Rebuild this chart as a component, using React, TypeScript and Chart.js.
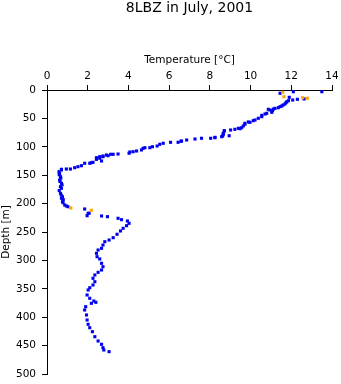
import React, { useEffect, useRef } from "react";
import { Chart, registerables } from "chart.js";

Chart.register(...registerables);

const titleText = "8LBZ in July, 2001";
const xTitle = "Temperature [°C]";
const yTitle = "Depth [m]";

const blueTemperature = [
  13.5, 12.1, 11.45, 11.9, 12.3, 12.63, 12.07, 11.86, 11.78, 11.74, 11.69, 11.6, 11.53, 11.45, 11.36, 11.2,
  11.12, 10.87, 10.95, 11.08, 11.04, 10.79, 10.71, 10.55, 10.55, 10.38, 10.22, 10.13, 9.89, 9.97, 9.72, 9.72,
  9.64, 9.56, 9.4, 9.48, 9.23, 9.02, 8.71, 8.71, 8.66, 8.66, 8.95, 8.63, 8.58, 8.25, 8.25, 8.04, 7.59, 7.27,
  6.86, 6.61, 6.58, 6.44, 6.07, 5.71, 5.54, 5.41, 5.18, 5.05, 4.81, 4.72, 4.64, 4.4, 4.23, 4.07, 4.03, 3.49,
  3.25, 3.13, 3.0, 2.92, 2.75, 2.75, 2.59, 2.43, 2.59, 2.43, 2.43, 2.68, 2.26, 2.18, 2.1, 1.85, 1.69, 1.52,
  1.36, 1.15, 0.95, 0.71, 0.71, 0.59, 0.62, 0.6, 0.66, 0.68, 0.62, 0.64, 0.71, 0.74, 0.66, 0.71, 0.6, 0.66,
  0.7, 0.76, 0.71, 0.8, 0.76, 0.79, 0.87, 0.95, 1.03, 1.85, 2.07, 2.02, 1.97, 2.68, 2.97, 3.49, 3.66, 3.95,
  4.03, 3.91, 3.74, 3.61, 3.44, 3.25, 3.05, 2.84, 2.75, 2.68, 2.51, 2.43, 2.46, 2.59, 2.68, 2.75, 2.68, 2.51,
  2.35, 2.26, 2.35, 2.26, 2.1, 2.02, 1.97, 2.1, 2.3, 2.4, 2.18, 1.9, 1.85, 1.94, 1.97, 2.02, 2.1, 2.23,
  2.35, 2.51, 2.68, 2.75, 2.79, 3.05,
];
const blueDepth = [
  3, 3, 5.8, 12.9, 16.4, 15.8, 17.6, 18.8, 20.6, 22.3, 24.6, 26.4, 28.2, 29.3, 31.2, 32.3,
  33.5, 34, 35.2, 36.4, 39.3, 41, 42.3, 44.6, 47, 49.8, 52.8, 54, 56.3, 56.9, 58.7, 60.4,
  63.4, 66.4, 67.4, 68.1, 69.2, 70.4, 71.6, 72.2, 76.3, 78, 80.5, 81, 82.2, 83.3, 84, 85, 85, 86.3,
  88, 89.8, 90.3, 92.1, 92.1, 93.8, 95.6, 98.6, 99.8, 101.6, 101.6, 102.7, 105.6, 107.4, 108.6, 109.2, 111.4, 112.7,
  113.2, 113.2, 115.7, 114.4, 116.2, 117.4, 117.4, 119.2, 120.2, 121.5, 122, 125, 127.3, 127.9, 129, 129, 133.3, 135,
  136.8, 139.1, 139.1, 139.6, 140.8, 143.8, 146.7, 149, 152.6, 155, 158.5, 161, 164.3, 167, 170.2, 173.1, 177, 181.9,
  185, 187.9, 190.7, 193, 196.7, 198.4, 202.5, 204.2, 205.5, 209.5, 217, 217.1, 221.3, 221.8, 223, 225.9, 228.3, 230.6,
  234.7, 238.9, 243.5, 248.2, 254, 260, 264.1, 267.1, 272.9, 278.7, 281.7, 287.5, 293.5, 297.5, 305.1, 311.1, 316.9, 321,
  325.7, 331.5, 337.5, 343.3, 348.1, 352.1, 360.9, 366.7, 371.5, 373.8, 375.5, 381.5, 387.3, 396.1, 404.9, 412.5, 418.5, 425.5,
  434.3, 441.9, 447.7, 453.7, 457.7, 460.7,
];
const orangeTemperature = [11.58, 11.64, 12.56, 12.79, 1.17, 2.18];
const orangeDepth = [4, 11.8, 13.6, 14.6, 207.7, 211.8];

const temperatureTicks = [0, 2, 4, 6, 8, 10, 12, 14];
const depthTicks = [0, 50, 100, 150, 200, 250, 300, 350, 400, 450, 500];

const FONT = "'DejaVu Sans', 'Liberation Sans', Arial, sans-serif";

export default function App() {
  const ref = useRef<HTMLCanvasElement>(null);

  useEffect(() => {
    document.body.style.margin = "0";
    const blue = blueTemperature.map((t, i) => ({ x: t, y: blueDepth[i] }));
    const orange = orangeTemperature.map((t, i) => ({ x: t, y: orangeDepth[i] }));
    const tickFont = { family: FONT, size: 10.5, weight: "normal" as const, lineHeight: 1.2 };

    const chart = new Chart(ref.current!, {
      type: "scatter",
      data: {
        datasets: [
          {
            label: "flagged",
            data: orange,
            backgroundColor: "#FFA500",
            borderColor: "#FFA500",
            borderWidth: 0,
            pointStyle: "rect",
            pointRadius: 2.2,
          },
          {
            label: "temperature",
            data: blue,
            backgroundColor: "#0000F0",
            borderColor: "#0000F0",
            borderWidth: 0,
            pointStyle: "rect",
            pointRadius: 2.2,
          },
        ],
      },
      options: {
        responsive: false,
        animation: false,
        devicePixelRatio: 1,
        layout: { padding: { left: 0, right: 9, top: 0, bottom: 10 } },
        plugins: {
          legend: { display: false },
          tooltip: { enabled: false },
          title: {
            display: true,
            text: titleText,
            fullSize: false,
            color: "#000",
            font: { family: FONT, size: 14, weight: "normal", lineHeight: 1.2 },
            padding: { top: 0, bottom: 0 },
          },
        },
        scales: {
          x: {
            type: "linear",
            position: "top",
            min: 0,
            max: 14,
            afterBuildTicks: (s: any) => {
              s.ticks = temperatureTicks.map((v) => ({ value: v }));
            },
            afterFit: (s: any) => {
              s.height = 73.2;
              s.paddingLeft = 0;
              s.paddingRight = 0;
            },
            ticks: { color: "#000", font: tickFont, padding: 2 },
            grid: { drawOnChartArea: false, drawTicks: true, tickLength: 5, color: "#000", tickColor: "#000", lineWidth: 1 },
            border: { display: true, color: "#000", width: 1 },
            title: { display: true, text: xTitle, color: "#000", font: tickFont, padding: { top: 37, bottom: 0 } },
          },
          y: {
            type: "linear",
            position: "left",
            reverse: true,
            min: 0,
            max: 500,
            afterBuildTicks: (s: any) => {
              s.ticks = depthTicks.map((v) => ({ value: v }));
            },
            afterFit: (s: any) => {
              s.width = 47;
              s.paddingTop = 0;
              s.paddingBottom = 0;
            },
            ticks: { color: "#000", font: tickFont, padding: 6 },
            grid: { drawOnChartArea: false, drawTicks: true, tickLength: 5, color: "#000", tickColor: "#000", lineWidth: 1 },
            border: { display: true, color: "#000", width: 1 },
            title: { display: true, text: yTitle, color: "#000", font: tickFont, padding: { top: 0, bottom: 0 } },
          },
        },
      },
    });
    return () => chart.destroy();
  }, []);

  return (
    <div style={{ position: "absolute", left: 0, top: 0, width: 341, height: 384, background: "#fff" }}>
      <canvas ref={ref} width={341} height={384} style={{ width: 341, height: 384, display: "block" }} />
    </div>
  );
}
